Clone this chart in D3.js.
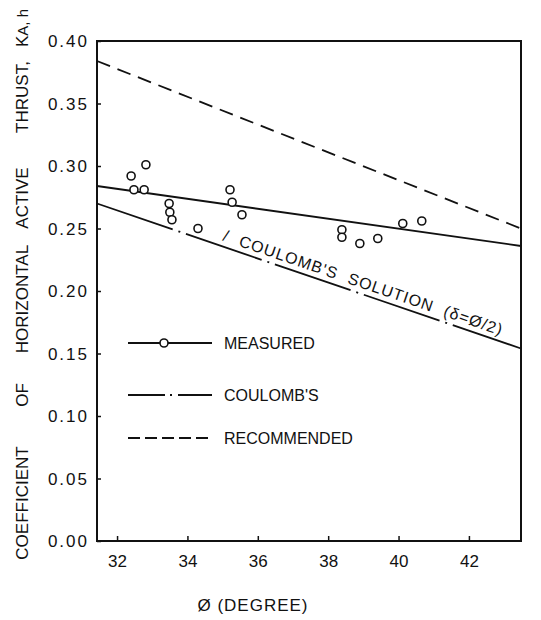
<!DOCTYPE html>
<html lang="en">
<head>
    <meta charset="UTF-8">
    <title>Coefficient of horizontal active thrust</title>
    <script src="https://d3js.org/d3.v7.min.js"></script>
    <style>
        body {
            margin: 0;
            background-color: #fff;
        }

        svg {
            display: block;
            background-color: #fff;
            font-family: "Liberation Sans", Arial, sans-serif;
        }

        .tick-label {
            font-size: 17px;
            fill: #111;
        }

        .axis-label {
            font-size: 17px;
            fill: #111;
        }

        .legend-text {
            font-size: 16px;
            fill: #111;
        }
    </style>
</head>
<body>
    <svg id="chart" width="541" height="620"></svg>
    <script>
        // Data
        const xTicks = [32, 34, 36, 38, 40, 42];
        const yTicks = [0.00, 0.05, 0.10, 0.15, 0.20, 0.25, 0.30, 0.35, 0.40];

        const measuredPhi = [32.40, 32.82, 32.48, 32.77, 33.48, 33.50, 33.56, 34.30,
                             35.21, 35.27, 35.55, 38.39, 38.39, 38.90, 39.41, 40.12, 40.66];
        const measuredK   = [0.292, 0.301, 0.281, 0.281, 0.270, 0.263, 0.257, 0.250,
                             0.281, 0.271, 0.261, 0.249, 0.243, 0.238, 0.242, 0.254, 0.256];

        // straight lines, given by their two ends
        const measuredLine    = [[31.43, 0.284], [43.48, 0.236]];
        const coulombLine     = [[31.43, 0.270], [43.48, 0.154]];
        const recommendedLine = [[31.43, 0.384], [43.48, 0.250]];

        const legendItems = ["MEASURED", "COULOMB'S", "RECOMMENDED"];

        // y-axis title words, spread out as in the original lettering
        const yTitleWords = ["COEFFICIENT", "OF", "HORIZONTAL", "ACTIVE", "THRUST,"];

        // Plot frame
        const margin = { top: 41, right: 20, bottom: 79, left: 97 },
              width = 541 - margin.left - margin.right,
              height = 620 - margin.top - margin.bottom;

        const svg = d3.select("#chart");
        const g = svg.append("g")
                     .attr("transform", `translate(${margin.left},${margin.top})`);

        const x = d3.scaleLinear().domain([31.43, 43.48]).range([0, width]);
        const y = d3.scaleLinear().domain([0, 0.40]).range([height, 0]);

        // Axes with inward ticks
        const xAxis = g.append("g")
            .attr("transform", `translate(0,${height})`)
            .call(d3.axisBottom(x).tickValues(xTicks).tickSize(-5).tickPadding(14).tickFormat(d3.format("d")));
        const yAxis = g.append("g")
            .call(d3.axisLeft(y).tickValues(yTicks).tickSize(-4).tickPadding(8).tickFormat(d3.format(".2f")));

        [xAxis, yAxis].forEach(a => {
            a.select(".domain").remove();
            a.selectAll(".tick line").attr("stroke", "#111").attr("stroke-width", 1.5);
            a.selectAll(".tick text")
             .attr("class", "tick-label")
             .attr("fill", "#111")
             .style("font-size", "17px");
        });
        yAxis.selectAll(".tick text").style("letter-spacing", "2px").attr("dy", "0.35em");

        // Frame
        g.append("rect")
            .attr("x", 0).attr("y", 0)
            .attr("width", width).attr("height", height)
            .attr("fill", "none")
            .attr("stroke", "#111")
            .attr("stroke-width", 2);

        const line = d3.line().x(d => x(d[0])).y(d => y(d[1]));

        g.append("path")
            .datum(recommendedLine)
            .attr("d", line)
            .attr("fill", "none")
            .attr("stroke", "#111")
            .attr("stroke-width", 1.8)
            .attr("stroke-dasharray", "14,8");

        g.append("path")
            .datum(measuredLine)
            .attr("d", line)
            .attr("fill", "none")
            .attr("stroke", "#111")
            .attr("stroke-width", 1.8);

        g.append("path")
            .datum(coulombLine)
            .attr("d", line)
            .attr("fill", "none")
            .attr("stroke", "#111")
            .attr("stroke-width", 1.8)
            .attr("stroke-dasharray", "80,6,2,6");

        // Measured points
        g.selectAll(".pt")
            .data(d3.zip(measuredPhi, measuredK))
            .enter()
            .append("circle")
            .attr("class", "pt")
            .attr("cx", d => x(d[0]))
            .attr("cy", d => y(d[1]))
            .attr("r", 4)
            .attr("fill", "#fff")
            .attr("stroke", "#111")
            .attr("stroke-width", 1.6);

        // Label along Coulomb's line
        const cx0 = x(coulombLine[0][0]), cy0 = y(coulombLine[0][1]);
        const cx1 = x(coulombLine[1][0]), cy1 = y(coulombLine[1][1]);
        const angle = Math.atan2(cy1 - cy0, cx1 - cx0) * 180 / Math.PI;
        const lx = x(34.98);
        const ly = cy0 + (lx - cx0) * (cy1 - cy0) / (cx1 - cx0) - 6;
        g.append("text")
            .attr("class", "axis-label")
            .attr("transform", `translate(${lx},${ly}) rotate(${angle})`)
            .style("font-size", "16px")
            .style("letter-spacing", "1px")
            .style("word-spacing", "6px")
            .text("/ COULOMB'S SOLUTION (\u03b4=\u00d8/2)");

        // Legend
        const legendY = [343, 395, 438];
        const leg = svg.append("g");
        legendItems.forEach((name, i) => {
            const ly2 = legendY[i];
            const p = leg.append("line")
                .attr("x1", 128).attr("x2", 212)
                .attr("y1", ly2).attr("y2", ly2)
                .attr("stroke", "#111")
                .attr("stroke-width", 1.8);
            if (i === 1) p.attr("stroke-dasharray", "37,5,2,6,40");
            if (i === 2) p.attr("stroke-dasharray", "12,5");
            if (i === 0) {
                leg.append("circle")
                    .attr("cx", 164).attr("cy", ly2).attr("r", 4)
                    .attr("fill", "#fff").attr("stroke", "#111").attr("stroke-width", 1.6);
            }
            leg.append("text")
                .attr("class", "legend-text")
                .attr("x", 224)
                .attr("y", ly2)
                .attr("dy", "0.35em")
                .text(name);
        });

        // X-axis label
        svg.append("text")
            .attr("class", "axis-label")
            .attr("x", 253)
            .attr("y", 611)
            .style("text-anchor", "middle")
            .style("letter-spacing", "1px")
            .text("\u00d8 (DEGREE)");

        // Y-axis label, one word at a time
        const wordCenters = [503, 395, 299, 198, 97];
        yTitleWords.forEach((w, i) => {
            svg.append("text")
                .attr("class", "axis-label")
                .attr("transform", `translate(28,${wordCenters[i]}) rotate(-90)`)
                .style("text-anchor", "middle")
                .text(w);
        });
        const kl = svg.append("text")
            .attr("class", "axis-label")
            .attr("transform", "translate(28,28) rotate(-90)")
            .style("text-anchor", "middle");
        kl.append("tspan").text("K");
        kl.append("tspan").style("font-size", "15px").text("A, h");
    </script>
</body>
</html>
